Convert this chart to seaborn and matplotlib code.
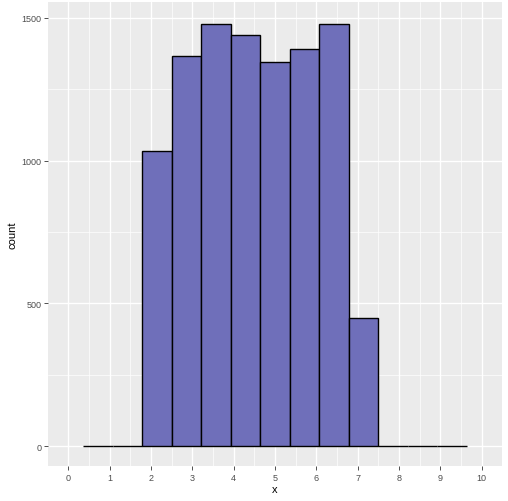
import numpy as np
import pandas as pd
import matplotlib
matplotlib.use("Agg")
import matplotlib.pyplot as plt
import seaborn as sns
from matplotlib.ticker import MultipleLocator

# Data
bin_edges = [0.357, 1.071, 1.785, 2.499, 3.213, 3.927, 4.641, 5.355,
             6.069, 6.783, 7.497, 8.211, 8.925, 9.639]
counts = [0, 0, 1034, 1368, 1478, 1439, 1347, 1391, 1480, 449, 0, 0, 0]
x_ticks = [0, 1, 2, 3, 4, 5, 6, 7, 8, 9, 10]
y_ticks = [0, 500, 1000, 1500]

centers = [(a + b) / 2 for a, b in zip(bin_edges[:-1], bin_edges[1:])]
df = pd.DataFrame({"x": centers, "w": counts})

sns.set_style("darkgrid")
plt.rcParams['font.family'] = ['Liberation Sans', 'DejaVu Sans']

fig = plt.figure(figsize=(5.08, 5.02), dpi=100)
ax = fig.add_axes([48 / 508, (502 - 467) / 502, (502 - 48) / 508, (467 - 3) / 502])
ax.set_facecolor("#EBEBEB")

sns.histplot(data=df, x="x", weights="w", bins=bin_edges, ax=ax,
             color="#6F6FBA", alpha=1.0, edgecolor="black", linewidth=1.0,
             zorder=3)

ax.set_xlim(-0.49, 10.49)
ax.set_ylim(-70, 1556)
ax.set_xticks(x_ticks)
ax.set_yticks(y_ticks)
ax.xaxis.set_minor_locator(MultipleLocator(0.5))
ax.yaxis.set_minor_locator(MultipleLocator(250))
ax.grid(which="major", color="white", linewidth=1.0, zorder=0)
ax.grid(which="minor", color="white", linewidth=0.5, zorder=0)
ax.set_axisbelow(True)
for s in ax.spines.values():
    s.set_visible(False)

ax.tick_params(axis="both", which="major", length=2.7, width=0.6, color="#333333",
               labelsize=6.5, labelcolor="#4D4D4D", pad=2, bottom=True, left=True)
ax.tick_params(axis="both", which="minor", length=0)
ax.set_xlabel("x", fontsize=8, color="black", labelpad=2)
ax.set_ylabel("count", fontsize=8, color="black", labelpad=3)

fig.savefig("out.png", dpi=100)
